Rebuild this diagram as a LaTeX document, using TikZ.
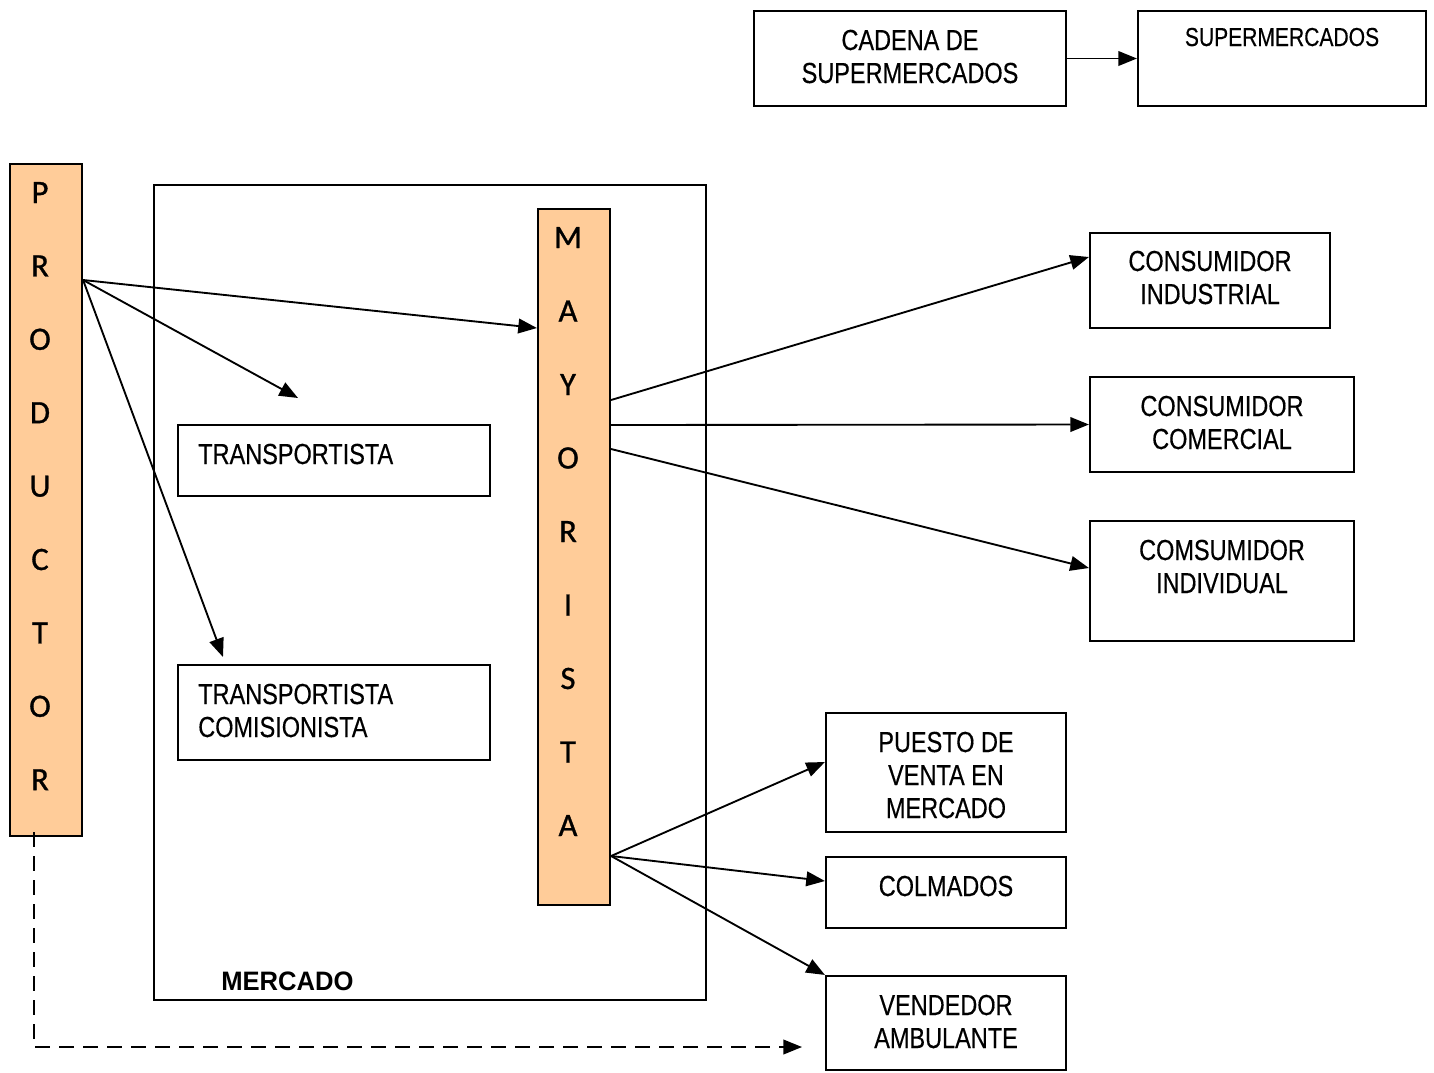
\documentclass[tikz,border=0pt]{standalone}
\usepackage{fontspec}
\setmainfont{Liberation Sans}
\newfontfamily\lab[FakeStretch=0.81,FakeBold=0.35]{Liberation Sans}
\newfontfamily\labbold[FakeStretch=0.96]{Liberation Sans Bold}
\newfontfamily\stackfont[FakeBold=0.9]{Carlito}
\usetikzlibrary{arrows.meta,fit}
\definecolor{peach}{HTML}{FFCC99}

\begin{document}
\begin{tikzpicture}[x=0.75pt,y=-0.75pt,
  box/.style={draw=black, line width=1.6pt, inner sep=0pt},
  bar/.style={box, fill=peach},
  txt/.style={font=\lab\fontsize{21.75pt}{24.75pt}\selectfont, align=center, inner sep=0pt, anchor=base},
  ltxt/.style={txt, align=left, anchor=base west},
  letter/.style={font=\stackfont\fontsize{24.5pt}{24pt}\selectfont, inner sep=0pt, anchor=base},
  arr/.style={line width=1.4pt, -{Triangle[length=14pt,width=11pt]}},
  dasharr/.style={arr, dash pattern=on 11pt off 7pt}
]
\useasboundingbox (0,0) rectangle (1434,1072);

% supermarket chain (text anchors sit on the last baseline)
\node[box, fit={(754,11) (1066,106)}] (cadena) {};
\node[box, fit={(1138,11) (1426,106)}] (super) {};
\node[txt] (tcadena) at (910,83) {CADENA DE\\SUPERMERCADOS};
\node[txt, font=\lab\fontsize{19.5pt}{22pt}\selectfont] (tsuper) at (1282,46) {SUPERMERCADOS};
\draw[arr] (cadena.east) -- (super.west);

% market area
\node[box, fit={(154,185) (706,1000)}] (mercado) {};
\node[anchor=base west, inner sep=0pt, font=\labbold\fontsize{20pt}{24pt}\selectfont] (tmercado) at (221,990) {MERCADO};

% producer and wholesaler bars
\node[bar, fit={(10,164) (82,836)}] (prod) {};
\node[bar, fit={(538,209) (610,905)}] (mayo) {};
\foreach \c [count=\i from 0] in {P,R,O,D,U,C,T,O,R}
  \node[letter] (pl\i) at (40,{203+73.4*\i}) {\c};
\foreach \c [count=\i from 0] in {M,A,Y,O,R,I,S,T,A}
  \node[letter] (ml\i) at (568,{248+73.5*\i}) {\c};

% carriers
\node[box, fit={(178,425) (490,496)}] (trans) {};
\node[ltxt] (ttrans) at (198,464) {TRANSPORTISTA};
\node[box, fit={(178,665) (490,760)}] (transc) {};
\node[ltxt] (ttransc) at (198,737) {TRANSPORTISTA\\COMISIONISTA};

% consumers
\node[box, fit={(1090,233) (1330,328)}] (ci) {};
\node[txt] (tci) at (1210,304) {CONSUMIDOR\\INDUSTRIAL};
\node[box, fit={(1090,377) (1354,472)}] (cc) {};
\node[txt] (tcc) at (1222,449) {CONSUMIDOR\\COMERCIAL};
\node[box, fit={(1090,521) (1354,641)}] (cv) {};
\node[txt] (tcv) at (1222,593) {COMSUMIDOR\\INDIVIDUAL};

% retail outlets
\node[box, fit={(826,713) (1066,832)}] (pv) {};
\node[txt] (tpv) at (946,818) {PUESTO DE\\VENTA EN\\MERCADO};
\node[box, fit={(826,857) (1066,928)}] (col) {};
\node[txt] (tcol) at (946,896) {COLMADOS};
\node[box, fit={(826,976) (1066,1070)}] (va) {};
\node[txt] (tva) at (946,1048) {VENDEDOR\\AMBULANTE};

% producer flows
\coordinate (tend) at (298,398);
\coordinate (tcend) at (223,657);
\draw[arr] (prod.east |- 0,280) -- (mayo.west |- 0,328);
\draw[arr] (prod.east |- 0,280) -- (tend);
\draw[arr] (prod.east |- 0,280) -- (tcend);

% wholesaler flows
\draw[arr] (mayo.east |- 0,400) -- (ci.west |- 0,257);
\draw[arr] (mayo.east |- 0,425) -- (cc.west);
\draw[arr] (mayo.east |- 0,449) -- (cv.west |- 0,568);
\draw[arr] (mayo.east |- 0,856) -- (pv.west |- 0,762);
\draw[arr] (mayo.east |- 0,856) -- (col.west |- 0,881);
\draw[arr] (mayo.east |- 0,856) -- (va.north west);

% direct route
\coordinate (dstart) at (34,832);
\coordinate (dend) at (802,1047);
\draw[dasharr] (dstart) |- (dend);
\end{tikzpicture}
\end{document}
